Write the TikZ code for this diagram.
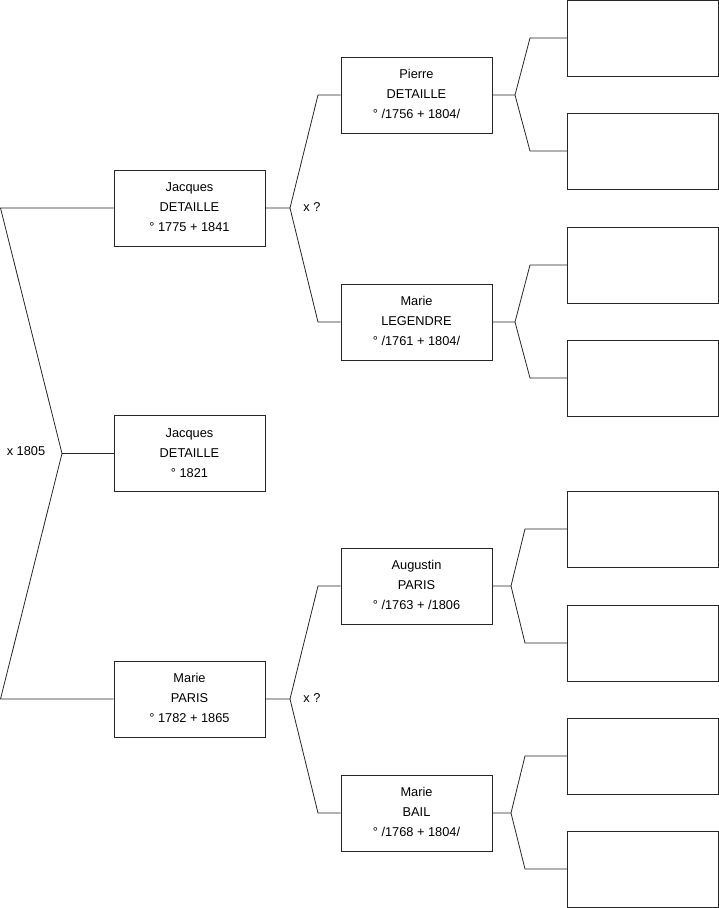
\documentclass[tikz,border=0pt]{standalone}
\usepackage{fontspec}
\setmainfont{Liberation Sans}
\begin{document}
\begin{tikzpicture}[x=1pt,y=-1pt,
    personne/.style={draw=black!85,line width=0.8pt,minimum width=151pt,minimum height=76pt,
      inner sep=0pt,align=center,text depth=1.5pt,font=\fontsize{12.8}{20}\selectfont},
    lien/.style={draw=black!85,line width=0.8pt},
    union/.style={inner sep=1pt,font=\fontsize{12.8}{14}\selectfont}]
  \useasboundingbox (0,0) rectangle (719,908);

  % Enfant et parents
  \node[personne] (enfant) at (189.5,453.5) {Jacques\\DETAILLE\\° 1821};
  \node[personne] (pere) at (189.5,208) {Jacques\\DETAILLE\\° 1775 + 1841};
  \node[personne] (mere) at (189.5,699) {Marie\\PARIS\\° 1782 + 1865};

  % Grands-parents
  \node[personne] (pierre) at (416.5,95) {Pierre\\DETAILLE\\° /1756 + 1804/};
  \node[personne] (legendre) at (416.5,322) {Marie\\LEGENDRE\\° /1761 + 1804/};
  \node[personne] (augustin) at (416.5,586) {Augustin\\PARIS\\° /1763 + /1806};
  \node[personne] (bail) at (416.5,813) {Marie\\BAIL\\° /1768 + 1804/};

  % Arriere-grands-parents (vides)
  \foreach \y [count=\i] in {38,151,265,378,529,643,756,869}
    {
      \node[personne,minimum width=151.5pt] (g\i) at (643,\y) {};
    }

  % Mariages
  \node[union] (m0) at (26,451) {x 1805};
  \node[union] (m1) at (312,207) {x ?};
  \node[union] (m2) at (312,698) {x ?};

  % Liens enfant -- parents
  \coordinate (lpere) at (0.5,208);
  \coordinate (lmere) at (0.5,699);
  \coordinate (jenfant) at (62,453.5);
  \draw[lien] (pere.west) -- (lpere) -- (jenfant) -- (lmere) -- (mere.west);
  \draw[lien] (jenfant) -- (enfant.west);

  % Liens parents -- grands-parents
  \coordinate (jpere) at (290,208);
  \coordinate (jmere) at (290,699);
  \coordinate (hpierre) at (318,95);
  \coordinate (hlegendre) at (318,322);
  \coordinate (haugustin) at (318,586);
  \coordinate (hbail) at (318,813);
  \draw[lien] (pere.east) -- (jpere) -- (hpierre) -- (pierre.west);
  \draw[lien] (jpere) -- (hlegendre) -- (legendre.west);
  \draw[lien] (mere.east) -- (jmere) -- (haugustin) -- (augustin.west);
  \draw[lien] (jmere) -- (hbail) -- (bail.west);

  % Liens grands-parents -- arriere-grands-parents
  \foreach \p/\a/\b/\jx/\bx in {pierre/1/2/515/530, legendre/3/4/515/530,
                                augustin/5/6/511/525, bail/7/8/511/525}
    {
      \coordinate (j\p) at (\p.east -| \jx,0);
      \coordinate (h\a) at (g\a.west -| \bx,0);
      \coordinate (h\b) at (g\b.west -| \bx,0);
      \draw[lien] (\p.east) -- (j\p) -- (h\a) -- (g\a.west);
      \draw[lien] (j\p) -- (h\b) -- (g\b.west);
    }
\end{tikzpicture}
\end{document}
